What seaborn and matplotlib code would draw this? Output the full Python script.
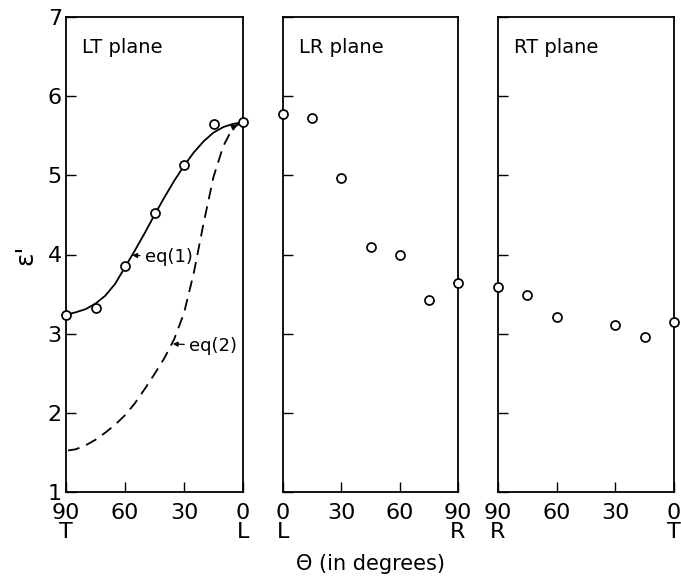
import matplotlib
matplotlib.use("Agg")
import matplotlib.pyplot as plt
import seaborn as sns

# ── Data ─────────────────────────────────────────────────────────────────────
# measured points (angle in degrees, relative permittivity)
lt_angle = [90, 75, 60, 45, 30, 15, 0]
lt_eps = [3.23, 3.33, 3.85, 4.52, 5.13, 5.65, 5.67]

lr_angle = [0, 15, 30, 45, 60, 75, 90]
lr_eps = [5.77, 5.73, 4.97, 4.09, 4.00, 3.43, 3.64]

rt_angle = [90, 75, 60, 30, 15, 0]
rt_eps = [3.59, 3.49, 3.21, 3.11, 2.96, 3.15]

# curves in the LT plane, read every 5 degrees
curve_angle = [90, 85, 80, 75, 70, 65, 60, 55, 50, 45, 40, 35, 30, 25, 20, 15, 10, 5, 0]
eq1_eps = [3.24, 3.27, 3.31, 3.38, 3.48, 3.63, 3.84, 4.05, 4.27, 4.50, 4.72,
           4.93, 5.12, 5.29, 5.43, 5.54, 5.61, 5.65, 5.67]
eq2_eps = [1.52, 1.54, 1.59, 1.66, 1.75, 1.85, 1.97, 2.12, 2.30, 2.49, 2.69,
           2.93, 3.26, 3.77, 4.40, 4.98, 5.37, 5.61, 5.67]

panel_titles = ["LT plane", "LR plane", "RT plane"]
panel_ticks = [[90, 60, 30, 0], [0, 30, 60, 90], [90, 60, 30, 0]]
panel_ticklabels = [["90\nT", "60", "30", "0\nL"],
                    ["0\nL", "30", "60", "90\nR"],
                    ["90\nR", "60", "30", "0\nT"]]
y_ticks = [1, 2, 3, 4, 5, 6, 7]

# ── Style ────────────────────────────────────────────────────────────────────
sns.set_theme(style="ticks")
plt.rcParams['font.family'] = ['DejaVu Sans']
plt.rcParams['axes.linewidth'] = 1.3
plt.rcParams['text.color'] = 'black'
plt.rcParams['axes.labelcolor'] = 'black'

fig = plt.figure(figsize=(6.81, 5.76), dpi=100)
lefts = [66 / 681, 283 / 681, 498 / 681]
widths = [177 / 681, 175 / 681, 176 / 681]
bottom, height = 1 - 492 / 576, 475 / 576
axes = [fig.add_axes([l, bottom, w, height]) for l, w in zip(lefts, widths)]

point_sets = [(lt_angle, lt_eps), (lr_angle, lr_eps), (rt_angle, rt_eps)]

for i, ax in enumerate(axes):
    xs, ys = point_sets[i]
    sns.scatterplot(x=xs, y=ys, ax=ax, marker='o', s=42, color='white',
                    edgecolor='black', linewidth=1.25, zorder=5, clip_on=False)
    if panel_ticks[i][0] > panel_ticks[i][-1]:
        ax.set_xlim(90, 0)
    else:
        ax.set_xlim(0, 90)
    ax.set_ylim(1, 7)
    ax.set_xticks(panel_ticks[i])
    ax.set_xticklabels(panel_ticklabels[i])
    for lab in ax.get_xticklabels():
        lab.set_linespacing(0.95)
    ax.set_yticks(y_ticks)
    ax.tick_params(axis='both', direction='in', length=7, width=1,
                   labelsize=16, colors='black')
    ax.tick_params(axis='x', pad=8)
    ax.tick_params(axis='y', pad=3)
    if i > 0:
        ax.tick_params(axis='y', labelleft=False)
    for sp in ax.spines.values():
        sp.set_visible(True)
        sp.set_color('black')
    ax.set_facecolor('white')
    ax.text(0.09, 0.935, panel_titles[i], transform=ax.transAxes,
            fontsize=14, ha='left', va='center', color='black')

ax1 = axes[0]
sns.lineplot(x=curve_angle, y=eq1_eps, ax=ax1, color='black', lw=1.3)
sns.lineplot(x=curve_angle, y=eq2_eps, ax=ax1, color='black', lw=1.3,
             linestyle=(0, (6.5, 4)))
ax1.set_xlim(90, 0)

# arrowhead at the end of the dashed curve
ax1.annotate("", xy=(curve_angle[-1], eq2_eps[-1]),
             xytext=(curve_angle[-2], eq2_eps[-2]),
             arrowprops=dict(arrowstyle='-|>', color='black', lw=1.0,
                             mutation_scale=9, shrinkA=0, shrinkB=4))

ax1.annotate("eq(1)", xy=(56.3, 3.99), xytext=(50, 3.97),
             fontsize=13, ha='left', va='center', color='black',
             arrowprops=dict(arrowstyle='-|>', color='black', lw=0.9,
                             mutation_scale=7, shrinkA=1, shrinkB=0))
ax1.annotate("eq(2)", xy=(35.7, 2.87), xytext=(27.5, 2.85),
             fontsize=13, ha='left', va='center', color='black',
             arrowprops=dict(arrowstyle='-|>', color='black', lw=0.9,
                             mutation_scale=7, shrinkA=1, shrinkB=0))

ax1.set_ylabel("ε'", fontsize=18, rotation=90)
ax1.yaxis.set_label_coords(-0.16, 0.5)

axes[1].set_xlabel("Θ (in degrees)", fontsize=15)
axes[1].xaxis.set_label_coords(0.5, -0.13)

plt.savefig("out.png", dpi=100)
